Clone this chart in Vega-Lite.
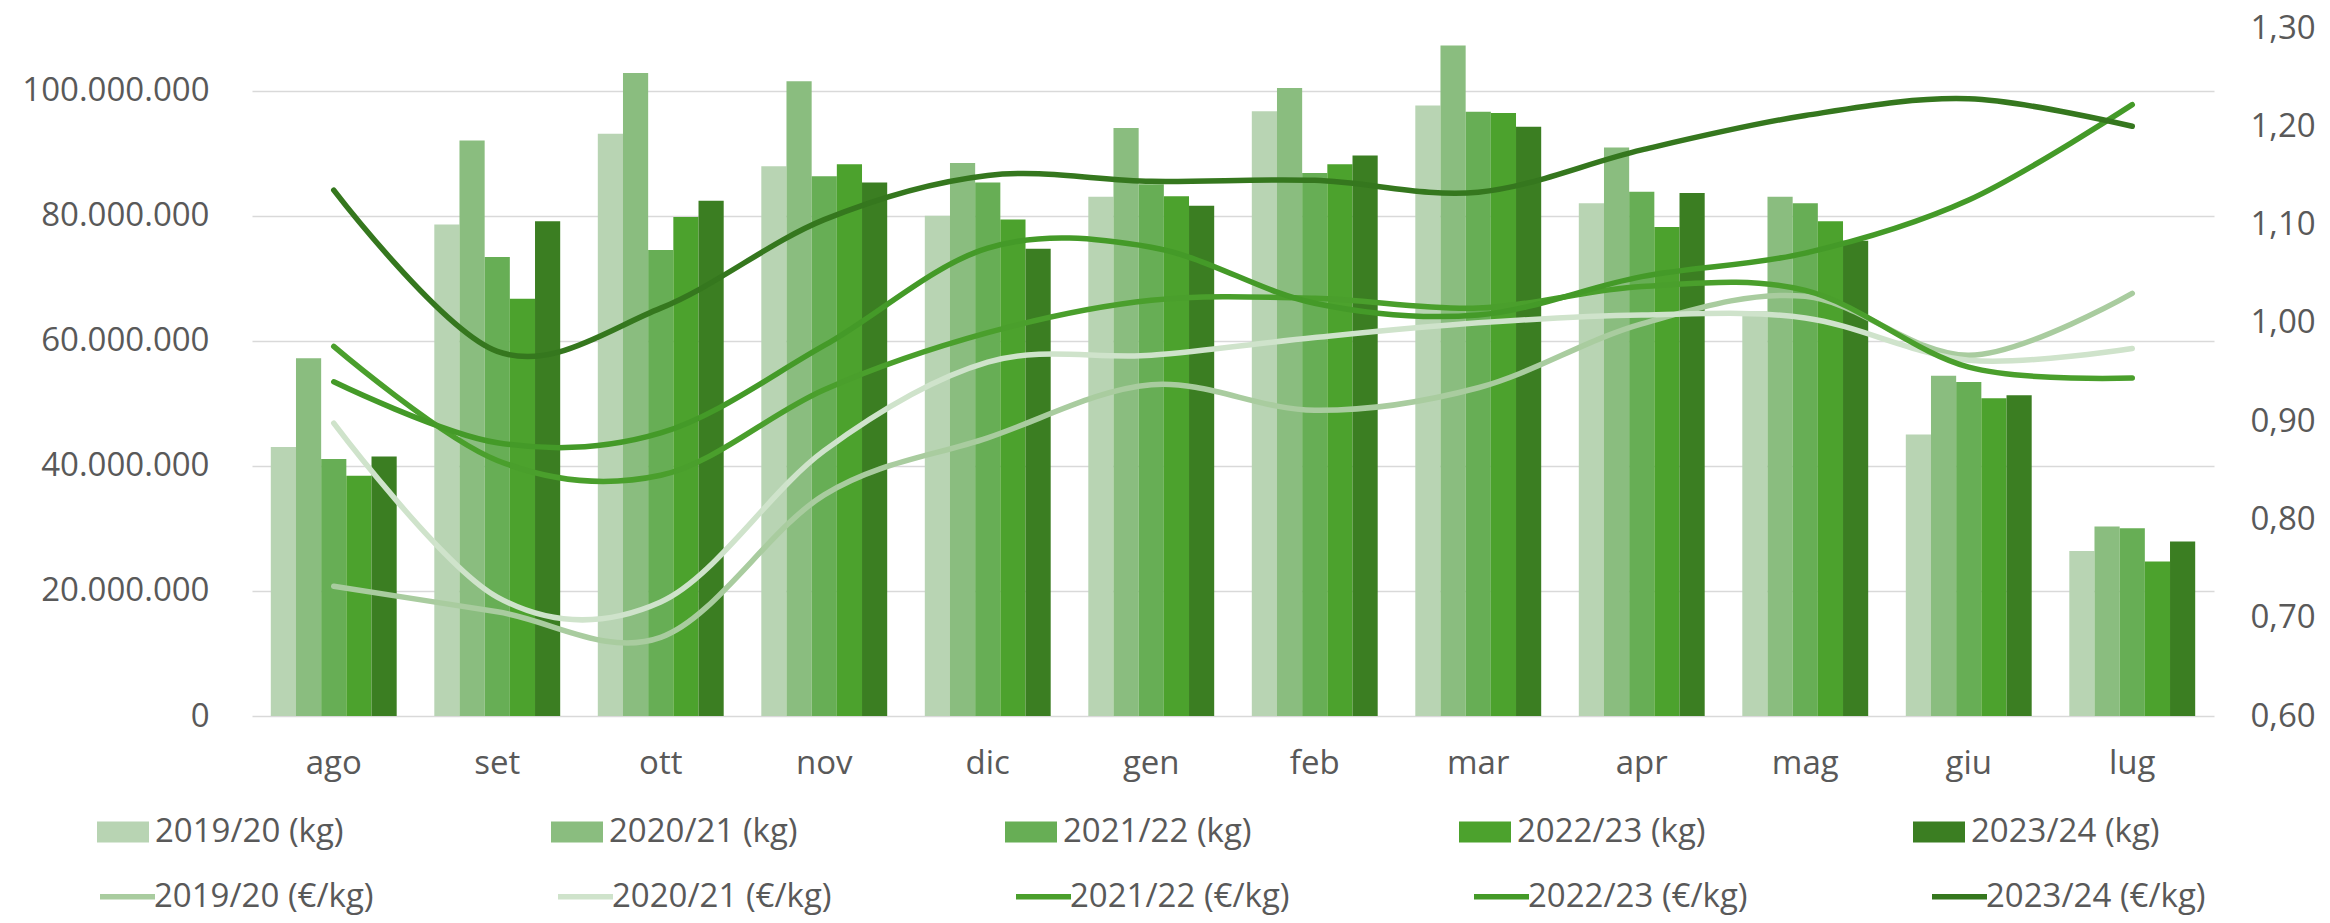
{
  "$schema": "https://vega.github.io/schema/vega-lite/v6.json",
  "width": 1962,
  "height": 688,
  "autosize": {"type": "none"},
  "padding": {"left": 252, "top": 28, "right": 116, "bottom": 207},
  "background": "white",
  "config": {
    "view": {"stroke": null},
    "font": "Open Sans",
    "axis": {"labelFont": "Open Sans", "labelFontSize": 33, "labelColor": "#595959", "ticks": false, "domain": false, "title": null, "labelLimit": 400},
    "legend": {"labelFont": "Open Sans", "labelFontSize": 33, "labelColor": "#595959", "labelLimit": 400}
  },
  "data": {
    "values": [
      {"mese": "ago", "stagione": "2019/20", "kg": 43000000, "prezzo": 0.732},
      {"mese": "set", "stagione": "2019/20", "kg": 78600000, "prezzo": 0.706},
      {"mese": "ott", "stagione": "2019/20", "kg": 93100000, "prezzo": 0.680},
      {"mese": "nov", "stagione": "2019/20", "kg": 87900000, "prezzo": 0.825},
      {"mese": "dic", "stagione": "2019/20", "kg": 80000000, "prezzo": 0.883},
      {"mese": "gen", "stagione": "2019/20", "kg": 83000000, "prezzo": 0.937},
      {"mese": "feb", "stagione": "2019/20", "kg": 96700000, "prezzo": 0.911},
      {"mese": "mar", "stagione": "2019/20", "kg": 97600000, "prezzo": 0.934},
      {"mese": "apr", "stagione": "2019/20", "kg": 82000000, "prezzo": 0.999},
      {"mese": "mag", "stagione": "2019/20", "kg": 64700000, "prezzo": 1.027},
      {"mese": "giu", "stagione": "2019/20", "kg": 45000000, "prezzo": 0.967},
      {"mese": "lug", "stagione": "2019/20", "kg": 26400000, "prezzo": 1.030},
      {"mese": "ago", "stagione": "2020/21", "kg": 57200000, "prezzo": 0.898},
      {"mese": "set", "stagione": "2020/21", "kg": 92000000, "prezzo": 0.721},
      {"mese": "ott", "stagione": "2020/21", "kg": 102800000, "prezzo": 0.716},
      {"mese": "nov", "stagione": "2020/21", "kg": 101500000, "prezzo": 0.870},
      {"mese": "dic", "stagione": "2020/21", "kg": 88400000, "prezzo": 0.960},
      {"mese": "gen", "stagione": "2020/21", "kg": 94000000, "prezzo": 0.967},
      {"mese": "feb", "stagione": "2020/21", "kg": 100400000, "prezzo": 0.985},
      {"mese": "mar", "stagione": "2020/21", "kg": 107200000, "prezzo": 1.000},
      {"mese": "apr", "stagione": "2020/21", "kg": 90900000, "prezzo": 1.008},
      {"mese": "mag", "stagione": "2020/21", "kg": 83000000, "prezzo": 1.005},
      {"mese": "giu", "stagione": "2020/21", "kg": 54400000, "prezzo": 0.962},
      {"mese": "lug", "stagione": "2020/21", "kg": 30300000, "prezzo": 0.974},
      {"mese": "ago", "stagione": "2021/22", "kg": 41100000, "prezzo": 0.976},
      {"mese": "set", "stagione": "2021/22", "kg": 73400000, "prezzo": 0.860},
      {"mese": "ott", "stagione": "2021/22", "kg": 74500000, "prezzo": 0.845},
      {"mese": "nov", "stagione": "2021/22", "kg": 86300000, "prezzo": 0.932},
      {"mese": "dic", "stagione": "2021/22", "kg": 85300000, "prezzo": 0.990},
      {"mese": "gen", "stagione": "2021/22", "kg": 85000000, "prezzo": 1.023},
      {"mese": "feb", "stagione": "2021/22", "kg": 86800000, "prezzo": 1.025},
      {"mese": "mar", "stagione": "2021/22", "kg": 96600000, "prezzo": 1.015},
      {"mese": "apr", "stagione": "2021/22", "kg": 83800000, "prezzo": 1.037},
      {"mese": "mag", "stagione": "2021/22", "kg": 82000000, "prezzo": 1.033},
      {"mese": "giu", "stagione": "2021/22", "kg": 53400000, "prezzo": 0.955},
      {"mese": "lug", "stagione": "2021/22", "kg": 30000000, "prezzo": 0.944},
      {"mese": "ago", "stagione": "2022/23", "kg": 38400000, "prezzo": 0.940},
      {"mese": "set", "stagione": "2022/23", "kg": 66700000, "prezzo": 0.878},
      {"mese": "ott", "stagione": "2022/23", "kg": 79800000, "prezzo": 0.888},
      {"mese": "nov", "stagione": "2022/23", "kg": 88200000, "prezzo": 0.977},
      {"mese": "dic", "stagione": "2022/23", "kg": 79400000, "prezzo": 1.076},
      {"mese": "gen", "stagione": "2022/23", "kg": 83100000, "prezzo": 1.077},
      {"mese": "feb", "stagione": "2022/23", "kg": 88200000, "prezzo": 1.020},
      {"mese": "mar", "stagione": "2022/23", "kg": 96400000, "prezzo": 1.008},
      {"mese": "apr", "stagione": "2022/23", "kg": 78200000, "prezzo": 1.047},
      {"mese": "mag", "stagione": "2022/23", "kg": 79100000, "prezzo": 1.071},
      {"mese": "giu", "stagione": "2022/23", "kg": 50800000, "prezzo": 1.125},
      {"mese": "lug", "stagione": "2022/23", "kg": 24700000, "prezzo": 1.222},
      {"mese": "ago", "stagione": "2023/24", "kg": 41500000, "prezzo": 1.135},
      {"mese": "set", "stagione": "2023/24", "kg": 79100000, "prezzo": 0.971},
      {"mese": "ott", "stagione": "2023/24", "kg": 82400000, "prezzo": 1.015},
      {"mese": "nov", "stagione": "2023/24", "kg": 85300000, "prezzo": 1.105},
      {"mese": "dic", "stagione": "2023/24", "kg": 74700000, "prezzo": 1.150},
      {"mese": "gen", "stagione": "2023/24", "kg": 81600000, "prezzo": 1.144},
      {"mese": "feb", "stagione": "2023/24", "kg": 89600000, "prezzo": 1.145},
      {"mese": "mar", "stagione": "2023/24", "kg": 94200000, "prezzo": 1.133},
      {"mese": "apr", "stagione": "2023/24", "kg": 83600000, "prezzo": 1.176},
      {"mese": "mag", "stagione": "2023/24", "kg": 76000000, "prezzo": 1.211},
      {"mese": "giu", "stagione": "2023/24", "kg": 51300000, "prezzo": 1.228},
      {"mese": "lug", "stagione": "2023/24", "kg": 27900000, "prezzo": 1.200}
    ]
  },
  "encoding": {
    "x": {
      "field": "mese",
      "type": "nominal",
      "sort": ["ago", "set", "ott", "nov", "dic", "gen", "feb", "mar", "apr", "mag", "giu", "lug"],
      "scale": {"paddingInner": 0.23, "paddingOuter": 0.115},
      "axis": {"labelAngle": 0, "labelPadding": 31, "grid": false}
    }
  },
  "layer": [
    {
      "mark": {"type": "bar"},
      "encoding": {
        "xOffset": {"field": "stagione", "type": "nominal", "sort": ["2019/20", "2020/21", "2021/22", "2022/23", "2023/24"]},
        "y": {
          "field": "kg",
          "type": "quantitative",
          "scale": {"domain": [0, 110000000], "nice": false},
          "axis": {
            "values": [0, 20000000, 40000000, 60000000, 80000000, 100000000],
            "labelExpr": "replace(replace(format(datum.value, ','), ',', '.'), ',', '.')",
            "grid": true,
            "gridColor": "#d9d9d9",
            "gridWidth": 1.5,
            "labelPadding": 43
          }
        },
        "color": {
          "field": "stagione",
          "type": "nominal",
          "scale": {
            "domain": ["2019/20", "2020/21", "2021/22", "2022/23", "2023/24"],
            "range": ["#b8d4b3", "#8abd7f", "#67ae55", "#4ca22d", "#3b7e22"]
          },
          "legend": {
            "orient": "none",
            "legendX": -155,
            "legendY": 778,
            "direction": "horizontal",
            "columns": 5,
            "columnPadding": 207,
            "title": null,
            "labelExpr": "datum.label + ' (kg)'",
            "symbolType": "M-1,-0.4H1V0.4H-1Z",
            "symbolSize": 2704,
            "symbolStrokeWidth": 0,
            "symbolOpacity": 1,
            "labelOffset": 6
          }
        }
      }
    },
    {
      "mark": {"type": "line", "interpolate": "cardinal", "strokeWidth": 5.5, "strokeCap": "round", "strokeJoin": "round"},
      "encoding": {
        "y": {
          "field": "prezzo",
          "type": "quantitative",
          "scale": {"domain": [0.6, 1.3], "nice": false, "zero": false},
          "axis": {
            "orient": "right",
            "values": [0.6, 0.7, 0.8, 0.9, 1.0, 1.1, 1.2, 1.3],
            "labelExpr": "replace(format(datum.value, '.2f'), '.', ',')",
            "grid": false,
            "labelPadding": 36
          }
        },
        "color": {
          "field": "stagione",
          "type": "nominal",
          "scale": {
            "domain": ["2019/20", "2020/21", "2021/22", "2022/23", "2023/24"],
            "range": ["#a9cc9f", "#cfe3cb", "#4a9f2c", "#449a28", "#35771e"]
          },
          "legend": {
            "orient": "none",
            "legendX": -155,
            "legendY": 838,
            "direction": "horizontal",
            "columns": 5,
            "columnPadding": 173,
            "title": null,
            "labelExpr": "datum.label + ' (€/kg)'",
            "symbolType": "stroke",
            "symbolSize": 3025,
            "symbolStrokeWidth": 5.5,
            "labelOffset": -4
          }
        }
      }
    }
  ],
  "resolve": {"scale": {"y": "independent", "color": "independent"}}
}
